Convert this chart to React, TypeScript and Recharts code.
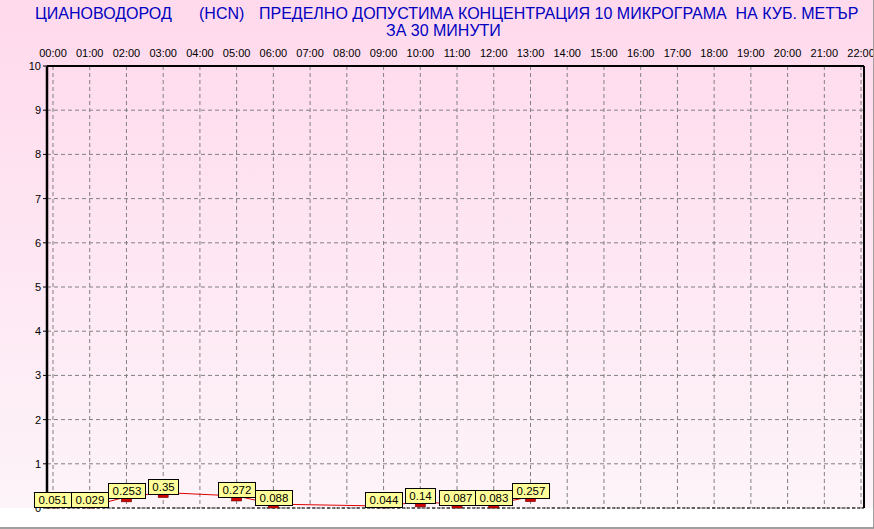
import React from 'react';
import { LineChart, Line, XAxis, YAxis, CartesianGrid, ReferenceLine, LabelList } from 'recharts';

const HOUR_LABELS = ['00:00','01:00','02:00','03:00','04:00','05:00','06:00','07:00','08:00','09:00','10:00','11:00','12:00','13:00','14:00','15:00','16:00','17:00','18:00','19:00','20:00','21:00','22:00'];
const HOUR_TICKS = HOUR_LABELS.map((_, i) => i);
const SAMPLE_HOURS = [0, 1, 2, 3, 4, 5, 6, 7, 8, 9, 10, 11, 12, 13];
const HCN_VALUES: (number | null)[] = [0.051, 0.029, 0.253, 0.35, null, 0.272, 0.088, null, null, 0.044, 0.14, 0.087, 0.083, 0.257];
const Y_TICKS = [0, 1, 2, 3, 4, 5, 6, 7, 8, 9, 10];

const TITLE_PART1 = 'ЦИАНОВОДОРОД';
const TITLE_PART2 = '(HCN)';
const TITLE_PART3 = 'ПРЕДЕЛНО ДОПУСТИМА КОНЦЕНТРАЦИЯ 10 МИКРОГРАМА  НА КУБ. МЕТЪР';
const TITLE_LINE2 = 'ЗА 30 МИНУТИ';

const data = SAMPLE_HOURS.map((h, i) => ({ h, v: HCN_VALUES[i] }));

const FONT = '"Liberation Sans", Arial, sans-serif';
const LABEL_FONT_SIZE = 11.5;
const LABEL_FONT = LABEL_FONT_SIZE + 'px ' + FONT;
const PLOT_BOTTOM = 508;

let canvasCtx: CanvasRenderingContext2D | null = null;
function measure(t: string): number {
  if (!canvasCtx) {
    const c = document.createElement('canvas');
    canvasCtx = c.getContext('2d');
  }
  if (!canvasCtx) return t.length * 6;
  canvasCtx.font = LABEL_FONT;
  return canvasCtx.measureText(t).width;
}

const renderDot = (props: any) => {
  const { cx, cy, value, index } = props;
  if (value == null || cx == null || cy == null) return <g key={'d' + index} />;
  const h = Math.max(0, Math.min(5, PLOT_BOTTOM - cy));
  return <rect key={'d' + index} x={cx - 5} y={cy} width={10} height={h} fill="#d00000" stroke="#700000" strokeWidth={0.6} />;
};

const renderLabel = (props: any) => {
  const { x, y, value, index } = props;
  if (value == null || x == null || y == null) return null;
  const txt = String(value);
  const tw = measure(txt);
  const w = Math.round(tw + 8);
  const h = 15;
  const bx = Math.round(x - w / 2);
  const by = Math.round(Math.min(y + 1, PLOT_BOTTOM - 1) - h);
  return (
    <g key={'l' + index}>
      <rect x={bx + 0.5} y={by + 0.5} width={w} height={h} fill="#ffff99" stroke="#000" strokeWidth={1} />
      <text x={bx + w / 2 + 0.5} y={by + h - 3} textAnchor="middle" fontSize={LABEL_FONT_SIZE} fontFamily={FONT} fill="#000">{txt}</text>
    </g>
  );
};

export default function App() {
  const titleStyle: React.CSSProperties = {
    position: 'absolute',
    fontFamily: FONT,
    fontSize: 16,
    lineHeight: '16px',
    color: '#0000c0',
    whiteSpace: 'pre',
  };
  return (
    <div
      style={{
        position: 'absolute',
        left: 0,
        top: 0,
        width: 874,
        height: 529,
        boxSizing: 'border-box',
        background: 'linear-gradient(to bottom, #ffd9ec 0px, #fdf4f9 508px, #ffffff 508px)',
        borderRight: '1px solid #a0a0a0',
        borderBottom: '2px solid #a0a0a0',
        overflow: 'hidden',
      }}
    >
      <div style={{ ...titleStyle, left: 35, top: 6 }}>{TITLE_PART1}</div>
      <div style={{ ...titleStyle, left: 199, top: 6 }}>{TITLE_PART2}</div>
      <div style={{ ...titleStyle, left: 259, top: 6 }}>{TITLE_PART3}</div>
      <div style={{ ...titleStyle, left: 386, top: 23 }}>{TITLE_LINE2}</div>
      <LineChart
        width={874}
        height={529}
        data={data}
        margin={{ top: 46, right: 10, bottom: 21, left: 7 }}
        style={{ position: 'absolute', left: 0, top: 0 }}
      >
        <CartesianGrid stroke="#808080" strokeDasharray="4 3" />
        <XAxis
          type="number"
          dataKey="h"
          orientation="top"
          domain={[-0.163, 22.08]}
          allowDataOverflow
          ticks={HOUR_TICKS}
          interval={0}
          tickFormatter={(i: number) => HOUR_LABELS[i] ?? ''}
          height={20}
          axisLine={false}
          tickLine={false}
          tickSize={4}
          tickMargin={5}
          tick={{ fill: '#000', fontSize: 11, fontFamily: FONT }}
        />
        <YAxis
          type="number"
          domain={[0, 10]}
          ticks={Y_TICKS}
          interval={0}
          width={40}
          axisLine={{ stroke: '#000', strokeWidth: 2.5 }}
          tickLine={{ stroke: '#000' }}
          tickSize={4}
          tickMargin={2}
          tick={{ fill: '#000', fontSize: 11, fontFamily: FONT }}
        />
        <ReferenceLine y={10} stroke="#000" strokeWidth={2} />
        <ReferenceLine x={22.08} stroke="#000" strokeWidth={2} />
        <ReferenceLine y={0} stroke="#000" strokeDasharray="3 2" />
        <Line
          type="linear"
          dataKey="v"
          stroke="#e00000"
          strokeWidth={1}
          connectNulls
          isAnimationActive={false}
          dot={renderDot}
          activeDot={false}
        >
          <LabelList dataKey="v" content={renderLabel} />
        </Line>
      </LineChart>
    </div>
  );
}
